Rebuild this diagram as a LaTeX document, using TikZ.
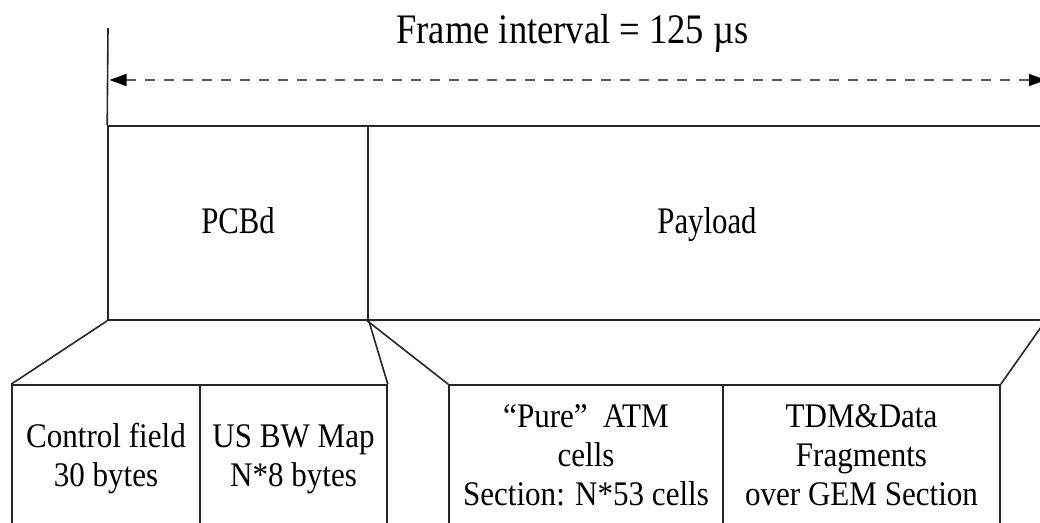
\documentclass[tikz,border=0pt]{standalone}
\usepackage{fontspec}
\setmainfont[FakeStretch=0.9]{Liberation Serif}
\newfontfamily\titlefont[FakeStretch=0.87]{Liberation Serif}
\newfontfamily\framefont[FakeStretch=0.82]{Liberation Serif}
\usetikzlibrary{arrows.meta}
\begin{document}
\begin{tikzpicture}[x=1pt,y=-1pt,
  box/.style={draw=black!85, line width=1.6pt, inner sep=0pt, align=center},
  bigbox/.style={box, minimum height=194pt, text depth=5pt, text height=25pt,
    font=\framefont\fontsize{37.5}{42}\selectfont},
  smallbox/.style={box, minimum height=148pt, font=\fontsize{34.5}{39}\selectfont},
  link/.style={draw=black!85, line width=1.6pt},
  span/.style={draw=black!65, line width=1.6pt, dash pattern=on 10pt off 9pt,
    {Triangle[length=17pt,width=12pt,color=black]}-{Triangle[length=17pt,width=12pt,color=black]}}
]
\clip (0,0) rectangle (1040,522);
\fill[white] (0,0) rectangle (1040,522);
% title
\node[anchor=base, inner sep=0pt, font=\titlefont\fontsize{42}{48}\selectfont] (title) at (572.5,43) {Frame interval = 125 µs};
% frame
\node[bigbox, minimum width=260pt] (pcbd) at (238,223) {PCBd};
\node[bigbox, minimum width=678pt] (payload) at (707,223) {Payload};
% left marker line and arrow
\coordinate (mtop) at (108,28);
\draw[link] (mtop) -- (pcbd.north west);
\coordinate (aL) at (109.5,80);
\coordinate (aR) at (1046,80);
\draw[span] (aL) -- (aR);
% lower boxes
\node[smallbox, minimum width=188pt] (cf) at (106,459) {\strut Control field\\30 bytes\strut};
\node[smallbox, minimum width=187pt] (us) at (293.5,459) {\strut US BW Map\\N*8 bytes\strut};
\node[smallbox, minimum width=274pt] (atm) at (586,459) {\strut “Pure”\hspace{0.45em}ATM\\cells\\Section: N*53 cells\strut};
\node[smallbox, minimum width=277pt] (tdm) at (861.5,459) {\strut TDM\&Data\\Fragments\\over GEM Section\strut};
% expansion lines
\coordinate (rend) at (1046,320);
\draw[link] (pcbd.south west) -- (cf.north west);
\draw[link] (pcbd.south east) -- (us.north east);
\draw[link] (payload.south west) -- (atm.north west);
\draw[link] (tdm.north east) -- (rend);
\end{tikzpicture}
\end{document}
